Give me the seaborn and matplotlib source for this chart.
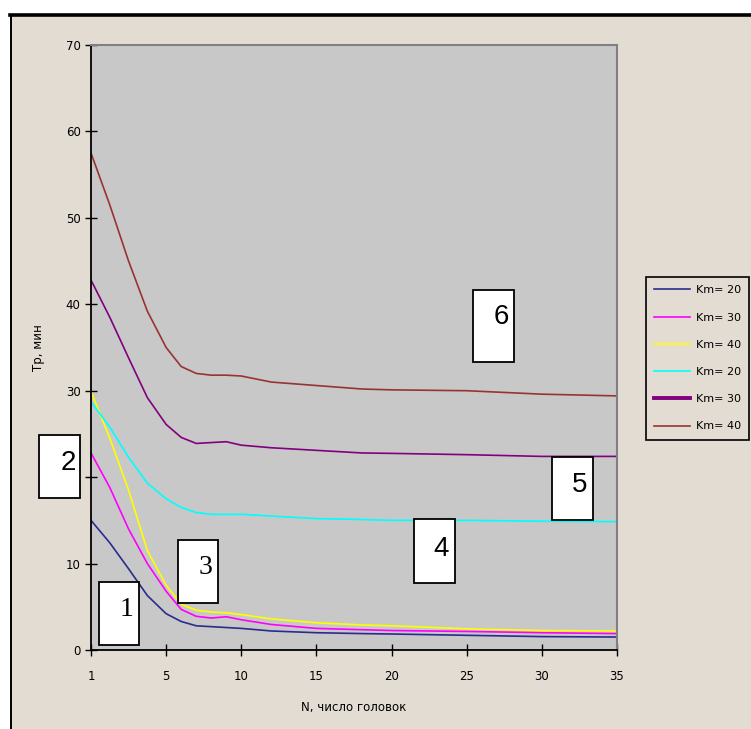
import numpy as np
import seaborn as sns
import matplotlib.pyplot as plt
from matplotlib.patches import Rectangle
from matplotlib.lines import Line2D

# N, число головок
n_heads = [1, 2, 3, 4, 5, 6, 7, 8, 9, 10, 12, 15, 18, 20, 25, 30, 35]

# Тр, мин for each curve (1..6)
tr_1 = [15.0, 12.4, 9.4, 6.3, 4.2, 3.3, 2.8, 2.7, 2.6, 2.5, 2.2, 2.0, 1.9, 1.85, 1.7, 1.55, 1.5]
tr_2 = [22.8, 18.8, 14.0, 10.0, 6.8, 4.7, 3.9, 3.7, 3.85, 3.5, 2.95, 2.5, 2.35, 2.25, 2.15, 2.0, 1.9]
tr_3 = [29.9, 24.5, 18.5, 11.5, 7.5, 5.3, 4.6, 4.4, 4.3, 4.1, 3.6, 3.15, 2.9, 2.8, 2.45, 2.25, 2.2]
tr_4 = [28.7, 25.8, 22.3, 19.3, 17.5, 16.5, 15.9, 15.7, 15.7, 15.7, 15.5, 15.2, 15.1, 15.0, 15.0, 14.9, 14.85]
tr_5 = [42.8, 38.5, 33.8, 29.2, 26.1, 24.6, 23.9, 24.0, 24.1, 23.7, 23.4, 23.1, 22.8, 22.75, 22.6, 22.4, 22.4]
tr_6 = [57.5, 51.5, 45.0, 39.2, 35.0, 32.8, 32.0, 31.8, 31.8, 31.7, 31.0, 30.6, 30.2, 30.1, 30.0, 29.6, 29.4]

series = [tr_1, tr_2, tr_3, tr_4, tr_5, tr_6]
legend_labels = ['Km= 20', 'Km= 30', 'Km= 40', 'Km= 20', 'Km= 30', 'Km= 40']
colors = ['#2B2B8F', '#FF00FF', '#FFFF00', '#00FFFF', '#800080', '#993333']

x_ticks = [1, 5, 10, 15, 20, 25, 30, 35]
y_ticks = [0, 10, 20, 30, 40, 50, 60, 70]

W, H = 751, 729
BEIGE = '#E3DCD3'

# Excel category-like axis: tick labels evenly spaced
tick_pos = np.arange(len(x_ticks), dtype=float)
def fwd(x):
    return np.interp(x, x_ticks, tick_pos)
def inv(p):
    return np.interp(p, tick_pos, x_ticks)

fig = plt.figure(figsize=(W / 100, H / 100), dpi=100)
fig.patch.set_facecolor('white')
fig.add_artist(Rectangle((11 / W, 0), 1, 1 - 15 / H, transform=fig.transFigure,
                         facecolor=BEIGE, edgecolor='none', zorder=-2))
fig.add_artist(Line2D([10 / W, 1], [1 - 15 / H, 1 - 15 / H], transform=fig.transFigure,
                      color='black', lw=2.6, zorder=-1))
fig.add_artist(Line2D([11 / W, 11 / W], [0, 1 - 15 / H], transform=fig.transFigure,
                      color='black', lw=1.4, zorder=-1))

ax = fig.add_axes([91 / W, 1 - 650 / H, 526 / W, 605 / H])
ax.set_facecolor('#C8C8C8')
ax.set_xscale('function', functions=(fwd, inv))

for vals, col, lbl in zip(series, colors, legend_labels):
    sns.lineplot(x=n_heads, y=vals, ax=ax, color=col, lw=1.2, label=lbl)

ax.set_xlim(1, 35)
ax.set_ylim(0, 70)
ax.set_xticks(x_ticks)
ax.set_xticklabels([str(t) for t in x_ticks])
ax.set_yticks(y_ticks)
# the "20" label sits under box 2, as in the original
ax.set_yticklabels(['' if t == 20 else str(t) for t in y_ticks])
ax.minorticks_off()
ax.tick_params(direction='inout', length=9, width=1, labelsize=8.5, colors='black')
ax.tick_params(axis='x', pad=10)
ax.tick_params(axis='y', pad=3)
for s in ['left', 'bottom']:
    ax.spines[s].set_color('black')
    ax.spines[s].set_linewidth(1.3)
for s in ['top', 'right']:
    ax.spines[s].set_color('#808080')
    ax.spines[s].set_linewidth(1.5)

ax.set_xlabel('N, число головок', fontsize=8.5)
ax.set_ylabel('Тр, мин', fontsize=8.5)
ax.xaxis.set_label_coords(0.5, -0.085)
ax.yaxis.set_label_coords(-0.087, 0.5)

leg = ax.legend(loc='upper left', bbox_to_anchor=(646 / W, 1 - 277 / H),
                bbox_transform=fig.transFigure, borderaxespad=0, fontsize=8,
                frameon=True, fancybox=False, edgecolor='black', facecolor=BEIGE,
                framealpha=1, labelspacing=1.55, handlelength=3.2,
                handletextpad=0.55, borderpad=0.75)
leg.get_frame().set_linewidth(1.2)
leg.get_lines()[4].set_linewidth(2.8)

# numbered boxes: (x0, y0, x1, y1, text, tx, ty, family)
boxes = [
    (99, 582, 139, 645, '1', 127, 610, 'Liberation Serif'),
    (39, 435, 80, 498, '2', 68, 463, 'Liberation Sans'),
    (178, 540, 218, 603, '3', 205, 567, 'Liberation Serif'),
    (414, 519, 455, 583, '4', 441, 549, 'Liberation Sans'),
    (552, 457, 593, 520, '5', 580, 485, 'Liberation Sans'),
    (473, 290, 514, 362, '6', 501, 317, 'Liberation Sans'),
]
for x0, y0, x1, y1, t, tx, ty, fam in boxes:
    fig.add_artist(Rectangle((x0 / W, 1 - y1 / H), (x1 - x0) / W, (y1 - y0) / H,
                             transform=fig.transFigure, facecolor='white',
                             edgecolor='black', lw=1.3, zorder=5))
    fig.text(tx / W, 1 - ty / H, t, fontsize=20, family=fam,
             ha='center', va='center', zorder=6)

plt.savefig('out.png', dpi=100)
